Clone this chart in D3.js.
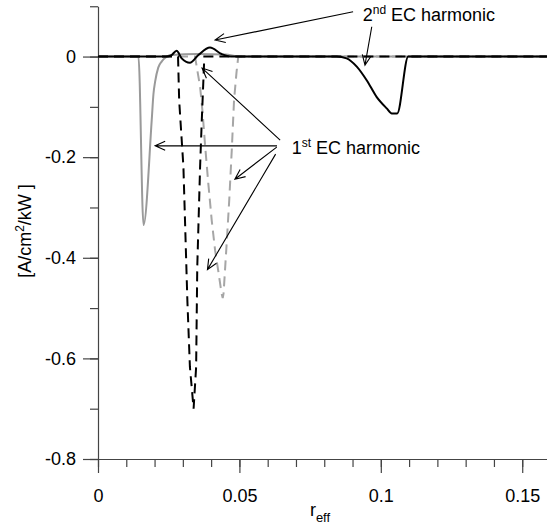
<!DOCTYPE html>
<html>
<head>
<meta charset="utf-8">
<script src="https://d3js.org/d3.v7.min.js"></script>
<style>
    body { margin: 0; background: #fff; }
    text { font-family: Arial, "Liberation Sans", sans-serif; fill: #000; }
</style>
</head>
<body>
<svg id="svgMain" width="547" height="525"></svg>
<script>

// 1st EC harmonic, gray solid
const gray1X = [0, 0.0143, 0.0161, 0.0190, 0.0196, 0.0202, 0.0213, 0.0225, 0.0243, 0.026, 0.035, 0.045, 0.05, 0.16];
const gray1Y = [0, 0, -0.335, -0.126, -0.075, -0.050, -0.022, -0.010, 0, 0.003, 0.005, 0.004, 0, 0];

// 1st EC harmonic, gray dashed
const gray2X = [0, 0.0343, 0.0349, 0.0361, 0.037, 0.0378, 0.039, 0.0402, 0.0414, 0.0425, 0.0437, 0.0441, 0.0444, 0.0455, 0.0464, 0.0473, 0.0481, 0.049, 0.0496, 0.16];
const gray2Y = [0, 0, -0.020, -0.060, -0.112, -0.172, -0.252, -0.325, -0.385, -0.425, -0.471, -0.480, -0.471, -0.371, -0.286, -0.186, -0.087, -0.030, 0, 0];

// 1st EC harmonic, black dashed
const black1X = [0, 0.0283, 0.0287, 0.0302, 0.0316, 0.0325, 0.0338, 0.0347, 0.0351, 0.0361, 0.0367, 0.0376, 0.16];
const black1Y = [0, 0, -0.087, -0.219, -0.485, -0.617, -0.700, -0.617, -0.418, -0.219, -0.126, 0, 0];

// 2nd EC harmonic, black solid
const black2X = [0, 0.024, 0.026, 0.0278, 0.0296, 0.0325, 0.0355, 0.0396, 0.0437, 0.047, 0.0844, 0.0879, 0.0915, 0.095, 0.0985, 0.1021, 0.1039, 0.1058, 0.1097, 0.16];
const black2Y = [0, 0, 0.003, 0.0115, -0.0036, -0.0123, 0.003, 0.018, 0.005, 0, 0, -0.0036, -0.020, -0.047, -0.080, -0.103, -0.113, -0.113, 0, 0];

const xTicks = ["0", "0.05", "0.1", "0.15"];
const yTicks = ["-0.8", "-0.6", "-0.4", "-0.2", "0"];

// arrows: [tailX, tailY, headX, headY] in data units
const arrows2nd = [[0.0902, 0.089, 0.0414, 0.0328], [0.0968, 0.0593, 0.0944, -0.0169]];
const arrows1st = [[0.0633, -0.1775, 0.0202, -0.1775], [0.0632, -0.180, 0.0484, -0.2438],
                   [0.0628, -0.194, 0.0387, -0.4235], [0.0644, -0.166, 0.0368, -0.0229]];

const svg = d3.select("#svgMain");
const x = d3.scaleLinear().domain([0, 0.16]).range([98, 550.5]);
const y = d3.scaleLinear().domain([-0.8, 0.1]).range([459, 6.25]);

// axes
const axisColor = "#444";

const yMinor = svg.append("g").attr("transform", "translate(98,0)")
    .call(d3.axisLeft(y).tickValues(d3.range(-8, 2).map(i => i / 10)).tickSize(8).tickFormat(""));
yMinor.select(".domain").remove();

const yMajor = svg.append("g").attr("transform", "translate(98,0)")
    .call(d3.axisLeft(y).tickValues(yTicks.map(Number)).tickFormat((d, i) => yTicks[i])
        .tickSize(15).tickSizeOuter(0).tickPadding(7));

const xMinor = svg.append("g").attr("transform", "translate(0,459)")
    .call(d3.axisBottom(x).tickValues(d3.range(0, 16).map(i => i / 100)).tickSize(8).tickFormat(""));
xMinor.select(".domain").remove();

const xMajor = svg.append("g").attr("transform", "translate(0,459)")
    .call(d3.axisBottom(x).tickValues(xTicks.map(Number)).tickFormat((d, i) => xTicks[i])
        .tickSize(14).tickSizeOuter(0).tickPadding(16));

svg.selectAll(".domain, .tick line").attr("stroke", axisColor).attr("stroke-width", 1.2);
svg.selectAll(".tick text").attr("font-size", 18).attr("font-family", "Arial, 'Liberation Sans', sans-serif").attr("fill", "#000");

// curves
const line = d3.line().x(d => x(d[0])).y(d => y(d[1]));
const smooth = d3.line().x(d => x(d[0])).y(d => y(d[1])).curve(d3.curveMonotoneX);

svg.append("path").datum(d3.zip(gray1X, gray1Y))
    .attr("d", smooth).attr("fill", "none").attr("stroke", "#9a9a9a").attr("stroke-width", 2);

svg.append("path").datum(d3.zip(gray2X, gray2Y))
    .attr("d", line).attr("fill", "none").attr("stroke", "#a6a6a6").attr("stroke-width", 2)
    .attr("stroke-dasharray", "10,6");

svg.append("path").datum(d3.zip(black1X, black1Y))
    .attr("d", line).attr("fill", "none").attr("stroke", "#000").attr("stroke-width", 2)
    .attr("stroke-dasharray", "10,6");

svg.append("path").datum(d3.zip(black2X, black2Y))
    .attr("d", smooth).attr("fill", "none").attr("stroke", "#000").attr("stroke-width", 2);

// arrows
function drawArrow(a) {
    let x1 = x(a[0]), y1 = y(a[1]), x2 = x(a[2]), y2 = y(a[3]);
    let ang = Math.atan2(y2 - y1, x2 - x1);
    let len = 11, spread = 0.42;
    let p = d3.path();
    p.moveTo(x1, y1);
    p.lineTo(x2, y2);
    p.moveTo(x2 - len * Math.cos(ang - spread), y2 - len * Math.sin(ang - spread));
    p.lineTo(x2, y2);
    p.lineTo(x2 - len * Math.cos(ang + spread), y2 - len * Math.sin(ang + spread));
    svg.append("path").attr("d", p.toString()).attr("fill", "none")
        .attr("stroke", "#000").attr("stroke-width", 1.1);
}
arrows2nd.forEach(drawArrow);
arrows1st.forEach(drawArrow);

// annotation labels
function harmonicLabel(px, py, num, sup) {
    let t = svg.append("text").attr("x", x(px)).attr("y", y(py)).attr("font-size", 18);
    t.append("tspan").text(num);
    t.append("tspan").attr("font-size", 12).attr("dy", -7).text(sup);
    t.append("tspan").attr("dy", 7).text(" EC harmonic");
}
harmonicLabel(0.0936, 0.0712, "2", "nd");
harmonicLabel(0.0685, -0.1946, "1", "st");

// axis titles
const xt = svg.append("text").attr("x", 320).attr("y", 516).attr("text-anchor", "middle").attr("font-size", 18);
xt.append("tspan").text("r");
xt.append("tspan").attr("font-size", 13).attr("dy", 6).text("eff");

const yt = svg.append("text").attr("transform", "translate(31,231) rotate(-90)")
    .attr("text-anchor", "middle").attr("font-size", 18);
yt.append("tspan").text("[A/cm");
yt.append("tspan").attr("font-size", 12).attr("dy", -7).text("2");
yt.append("tspan").attr("dy", 7).text("/kW ]");

</script>
</body>
</html>
